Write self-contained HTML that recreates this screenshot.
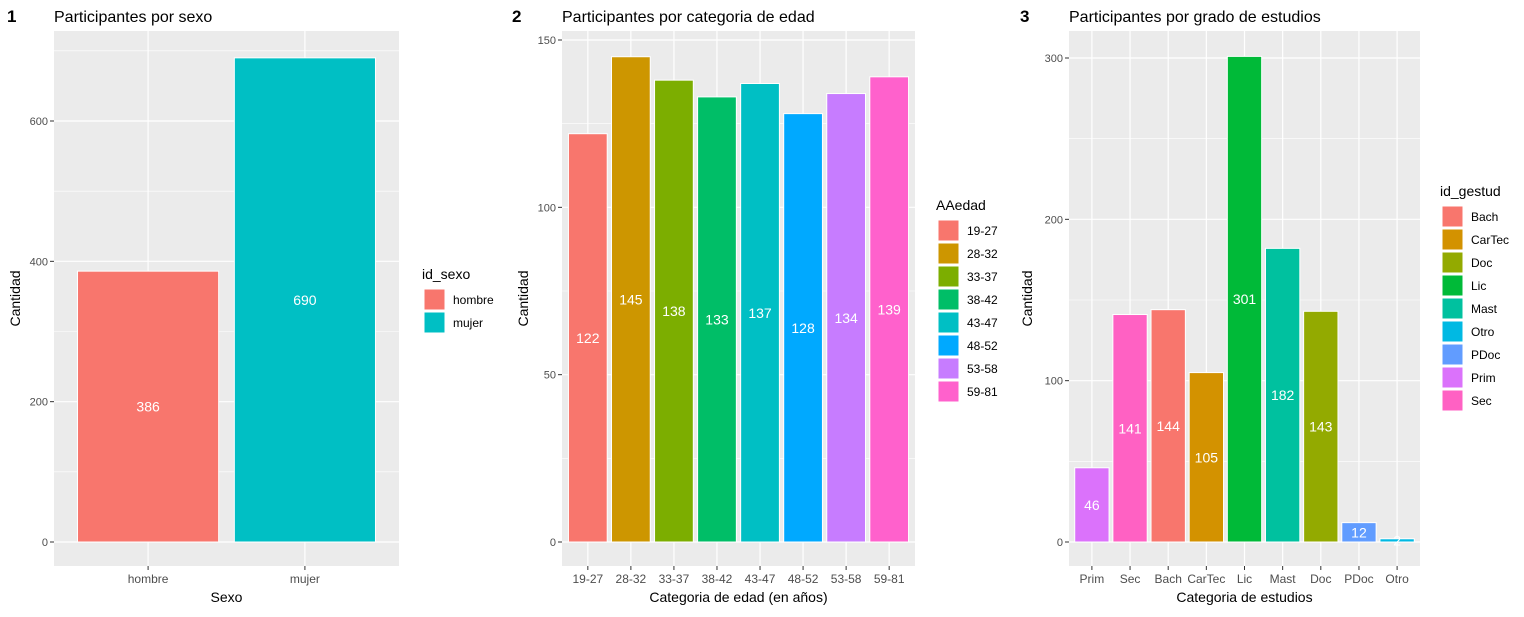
<!DOCTYPE html>
<html><head><meta charset="utf-8">
<style>
body{margin:0;background:#fff;font-family:"Liberation Sans",sans-serif;}
svg text{font-family:"Liberation Sans",sans-serif;}
</style></head>
<body>
<svg id="s" width="1524" height="612" xmlns="http://www.w3.org/2000/svg"></svg>
<script>
const sexCats = ["hombre","mujer"];
const sexVals = [386,690];
const sexColors = ["#F8766D","#00BFC4"];
const sexTicks = [0,200,400,600];

const ageCats = ["19-27","28-32","33-37","38-42","43-47","48-52","53-58","59-81"];
const ageVals = [122,145,138,133,137,128,134,139];
const ageColors = ["#F8766D","#CD9600","#7CAE00","#00BE67","#00BFC4","#00A9FF","#C77CFF","#FF61CC"];
const ageTicks = [0,50,100,150];

const eduCats = ["Prim","Sec","Bach","CarTec","Lic","Mast","Doc","PDoc","Otro"];
const eduVals = [46,141,144,105,301,182,143,12,2];
const eduLegend = ["Bach","CarTec","Doc","Lic","Mast","Otro","PDoc","Prim","Sec"];
const eduLegendColors = ["#F8766D","#D39200","#93AA00","#00BA38","#00C19F","#00B9E3","#619CFF","#DB72FB","#FF61C3"];
const eduTicks = [0,100,200,300];

const svg=document.getElementById('s');
const NS="http://www.w3.org/2000/svg";
function mk(tag,attrs,parent,text){const e=document.createElementNS(NS,tag);for(const k in attrs)e.setAttribute(k,attrs[k]);if(text!==undefined)e.textContent=text;(parent||svg).appendChild(e);return e;}

function panel(o){
  const g=mk('g',{});
  
  
  const L=o.left,R=o.right,T=31,B=566,y0=542;
  const y=v=>y0-(v-0)*o.pxPer;
  const n=o.cats.length;
  const step=(R-L)/(n+0.2);
  const x=i=>L+step*(0.6+i);
  const bg=mk('rect',{x:L,y:T,width:R-L,height:B-T,fill:'#EBEBEB'},g);
  
  // minor grid
  for(let i=0;i<o.ticks.length+1;i++){
    const tv=o.ticks[0]+(i-0.5)*(o.ticks[1]-o.ticks[0]);
    const yy=y(tv); if(yy<T||yy>B) continue;
    mk('line',{x1:L,x2:R,y1:yy,y2:yy,stroke:'#fff','stroke-width':0.6},g);
  }
  o.ticks.forEach(t=>{
    const yy=y(t);
    mk('line',{x1:L,x2:R,y1:yy,y2:yy,stroke:'#fff','stroke-width':1.2},g);
    mk('line',{x1:L-4,x2:L,y1:yy,y2:yy,stroke:'#333','stroke-width':1},g);
    const tl=mk('text',{x:L-6,y:yy+4,'text-anchor':'end','font-size':11,fill:'#4D4D4D'},g,String(t));
    
  });
  o.cats.forEach((c,i)=>{
    const xx=x(i);
    mk('line',{x1:xx,x2:xx,y1:T,y2:B,stroke:'#fff','stroke-width':1.2},g);
    mk('line',{x1:xx,x2:xx,y1:B,y2:B+4,stroke:'#333','stroke-width':1},g);
    const tl=mk('text',{x:xx,y:B+17,'text-anchor':'middle','font-size':12,fill:'#4D4D4D'},g,c);
    
  });
  o.cats.forEach((c,i)=>{
    const v=o.vals[i],w=step*0.9,xx=x(i);
    const r=mk('rect',{x:xx-w/2,y:y(v),width:w,height:y(0)-y(v),fill:o.colors[i],stroke:'#fff','stroke-width':1},g);
    
    
    const lb=mk('text',{x:xx,y:y(v/2)+5,'text-anchor':'middle','font-size':14,fill:'#fff'},g,String(v));
    
    
  });
  const nt=mk('text',{x:o.numX,y:22,'font-size':17,'font-weight':'bold',fill:'#000'},g,o.num);
  
  const tt=mk('text',{x:L,y:22,'font-size':16,fill:'#000'},g,o.title);
  
  const xt=mk('text',{x:(L+R)/2,y:602,'text-anchor':'middle','font-size':14,fill:'#000'},g,o.xTitle);
  
  const ytx=o.left-o.yTitleOff;
  const yt=mk('text',{x:ytx,y:(T+B)/2,'text-anchor':'middle','font-size':14,fill:'#000',transform:`rotate(-90 ${ytx} ${(T+B)/2})`},g,'Cantidad');
  
  // legend
  const lg=mk('g',{},g);
  
  mk('text',{x:o.legX,y:o.legY,'font-size':14,fill:'#000'},lg,o.legTitle);
  o.legCats.forEach((c,i)=>{
    const ky=o.legY+10+i*23;
    const k=mk('rect',{x:o.legX+2,y:ky,width:21,height:21,fill:o.legColors[i],stroke:'#fff','stroke-width':1},lg);
    
    const t=mk('text',{x:o.legX+31,y:ky+15,'font-size':12,fill:'#000'},lg,c);
    
  });
}

panel({name:'panel-sexo',left:54,right:399,pxPer:(542-121)/600,cats:sexCats,vals:sexVals,colors:sexColors,ticks:sexTicks,
  num:'1',numX:7,title:'Participantes por sexo',xTitle:'Sexo',yTitleOff:34,legX:422,legY:279,legTitle:'id_sexo',legCats:sexCats,legColors:sexColors});
panel({name:'panel-edad',left:562,right:915,pxPer:(542-40)/150,cats:ageCats,vals:ageVals,colors:ageColors,ticks:ageTicks,
  num:'2',numX:512,title:'Participantes por categoria de edad',xTitle:'Categoria de edad (en años)',yTitleOff:34,legX:936,legY:210,legTitle:'AAedad',legCats:ageCats,legColors:ageColors});
const eduColors=eduCats.map(c=>eduLegendColors[eduLegend.indexOf(c)]);
panel({name:'panel-estudios',left:1069,right:1420,pxPer:(542-58)/300,cats:eduCats,vals:eduVals,colors:eduColors,ticks:eduTicks,
  num:'3',numX:1020,title:'Participantes por grado de estudios',xTitle:'Categoria de estudios',yTitleOff:37,legX:1440,legY:196,legTitle:'id_gestud',legCats:eduLegend,legColors:eduLegendColors});
</script>
</body></html>
